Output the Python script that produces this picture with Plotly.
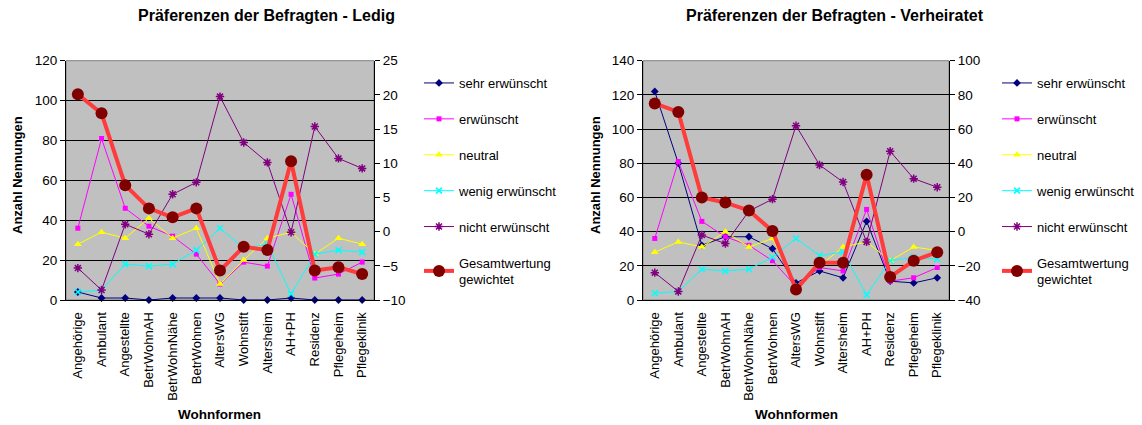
import plotly.graph_objects as go

# Wohnformen (categories)
wohnformen = ["Angehörige", "Ambulant", "Angestellte", "BetrWohnAH", "BetrWohnNähe",
              "BetrWohnen", "AltersWG", "Wohnstift", "Altersheim", "AH+PH",
              "Residenz", "Pflegeheim", "Pflegeklinik"]

# Ledig – Anzahl Nennungen
ledig_sehr = [4, 1, 1, 0, 1, 1, 1, 0, 0, 1, 0, 0, 0]
ledig_erw = [36, 81, 46, 37, 32, 23, 8, 19, 17, 53, 11, 13, 19]
ledig_neutral = [28, 34, 31, 41, 31, 36, 8, 20, 31, 34, 23, 31, 28]
ledig_wenig = [4, 5, 18, 17, 18, 25, 36, 26, 28, 3, 23, 25, 24]
ledig_nicht = [16, 5, 38, 33, 53, 59, 102, 79, 69, 34, 87, 71, 66]
ledig_gesamt = [20.1, 17.3, 6.8, 3.4, 2.1, 3.4, -5.7, -2.2, -2.7, 10.3, -5.7, -5.2, -6.2]

# Verheiratet – Anzahl Nennungen
verh_sehr = [122, 80, 32, 37, 37, 30, 10, 17, 13, 46, 11, 10, 13]
verh_erw = [36, 81, 46, 37, 32, 23, 8, 19, 17, 53, 11, 13, 19]
verh_neutral = [28, 34, 31, 40, 31, 36, 8, 20, 31, 34, 23, 31, 29]
verh_wenig = [4, 5, 18, 17, 18, 25, 36, 26, 28, 3, 23, 25, 24]
verh_nicht = [16, 5, 38, 33, 52, 59, 102, 79, 69, 34, 87, 71, 66]
verh_gesamt = [75, 70, 20, 17, 12.4, 0.4, -33.8, -18.2, -18.2, 33.3, -26.5, -17, -12]

W, H = 1142, 425
FONT = "Liberation Sans, Arial, sans-serif"


def fx(v):
    return v / W


def fy(v):
    return 1 - v / H


styles = [
    ("sehr erwünscht", "#000080", "diamond", 6, 1),
    ("erwünscht", "#FF00FF", "square", 5, 1),
    ("neutral", "#FFFF00", "triangle-up", 7, 1),
    ("wenig erwünscht", "#00FFFF", "x-thin-open", 6, 1),
    ("nicht erwünscht", "#800080", "asterisk-open", 7, 1),
]

fig = go.Figure()


def add_panel(values, gesamt, xa, ya, ya2, legend):
    for (name, color, sym, size, lw), vals in zip(styles, values):
        marker = dict(symbol=sym, size=size, color=color)
        if sym.endswith("open"):
            marker["line"] = dict(color=color, width=1.5)
        fig.add_trace(go.Scatter(
            x=wohnformen, y=vals, name=name, mode="lines+markers",
            line=dict(color=color, width=lw), marker=marker,
            xaxis=xa, yaxis=ya, legend=legend, legendgroup=legend + name,
            cliponaxis=False))
    fig.add_trace(go.Scatter(
        x=wohnformen, y=gesamt, name="Gesamtwertung<br>gewichtet",
        mode="lines+markers", line=dict(color="#FF3B3B", width=4),
        marker=dict(symbol="circle", size=12, color="#800000"),
        xaxis=xa, yaxis=ya2, legend=legend, legendgroup=legend + "ges",
        cliponaxis=False))


add_panel([ledig_sehr, ledig_erw, ledig_neutral, ledig_wenig, ledig_nicht],
          ledig_gesamt, "x", "y", "y2", "legend")
add_panel([verh_sehr, verh_erw, verh_neutral, verh_wenig, verh_nicht],
          verh_gesamt, "x2", "y3", "y4", "legend2")

ydom = [fy(300), fy(60.7)]
ytickfont = dict(family=FONT, size=13.5, color="black")
xtickfont = dict(family=FONT, size=13, color="black")

xcommon = dict(type="category", range=[-0.5, len(wohnformen) - 0.5],
               showline=True, linecolor="black", linewidth=1, ticks="",
               tickangle=-90, tickfont=xtickfont, showgrid=False, zeroline=False,
               automargin=False, ticklabelstandoff=6)
ycommon = dict(showline=True, linecolor="black", linewidth=1, ticks="outside",
               ticklen=5, tickcolor="black", tickfont=ytickfont, zeroline=False,
               automargin=False)
inner = dict(side="right", ticks="inside", ticklen=4, tickcolor="black",
             showticklabels=False, showline=False, showgrid=False, zeroline=False,
             automargin=False)

legend_style = dict(xanchor="left", yanchor="top", bgcolor="rgba(0,0,0,0)",
                    font=dict(family=FONT, size=13), tracegroupgap=16)

fig.update_layout(
    width=W, height=H,
    margin=dict(l=0, r=0, t=0, b=0),
    paper_bgcolor="white", plot_bgcolor="#C0C0C0",
    font=dict(family=FONT, size=13, color="black"),
    xaxis=dict(domain=[fx(66), fx(374)], anchor="y", **xcommon),
    yaxis=dict(domain=ydom, anchor="x", range=[0, 120], dtick=20,
               showgrid=True, gridcolor="black", gridwidth=1, **ycommon),
    yaxis2=dict(overlaying="y", side="right", anchor="x", range=[-10, 25], dtick=5,
                showgrid=False, **ycommon),
    yaxis5=dict(overlaying="y", anchor="x", range=[-10, 25], dtick=5, **inner),
    xaxis2=dict(domain=[fx(643), fx(949)], anchor="y3", **xcommon),
    yaxis3=dict(domain=ydom, anchor="x2", range=[0, 140], dtick=20,
                showgrid=True, gridcolor="black", gridwidth=1, **ycommon),
    yaxis4=dict(overlaying="y3", side="right", anchor="x2", range=[-40, 100], dtick=20,
                showgrid=False, **ycommon),
    yaxis6=dict(overlaying="y3", anchor="x2", range=[-40, 100], dtick=20, **inner),
    legend=dict(x=fx(419), y=fy(68), **legend_style),
    legend2=dict(x=fx(997), y=fy(68), **legend_style),
    showlegend=True,
)

# gray frame around both plot areas
for xr, yr in (("x", "y"), ("x2", "y3")):
    fig.add_shape(type="rect", xref=f"{xr} domain", yref=f"{yr} domain",
                  x0=0, x1=1, y0=0, y1=1, line=dict(color="#808080", width=1),
                  layer="below")

bold = dict(family=FONT, color="black")
annotations = [
    dict(text="<b>Präferenzen der Befragten - Ledig</b>", x=fx(266), y=fy(16), size=16),
    dict(text="<b>Präferenzen der Befragten - Verheiratet</b>", x=fx(835), y=fy(16), size=16),
    dict(text="<b>Wohnformen</b>", x=fx(220), y=fy(414), size=13.5),
    dict(text="<b>Wohnformen</b>", x=fx(796), y=fy(414), size=13.5),
    dict(text="<b>Anzahl Nennungen</b>", x=fx(17), y=fy(175), size=13, angle=-90),
    dict(text="<b>Anzahl Nennungen</b>", x=fx(595), y=fy(175), size=13, angle=-90),
]
for a in annotations:
    fig.add_annotation(text=a["text"], x=a["x"], y=a["y"], xref="paper", yref="paper",
                       showarrow=False, xanchor="center", yanchor="middle",
                       textangle=a.get("angle", 0),
                       font=dict(size=a["size"], **bold))

fig.write_html("out.html")
